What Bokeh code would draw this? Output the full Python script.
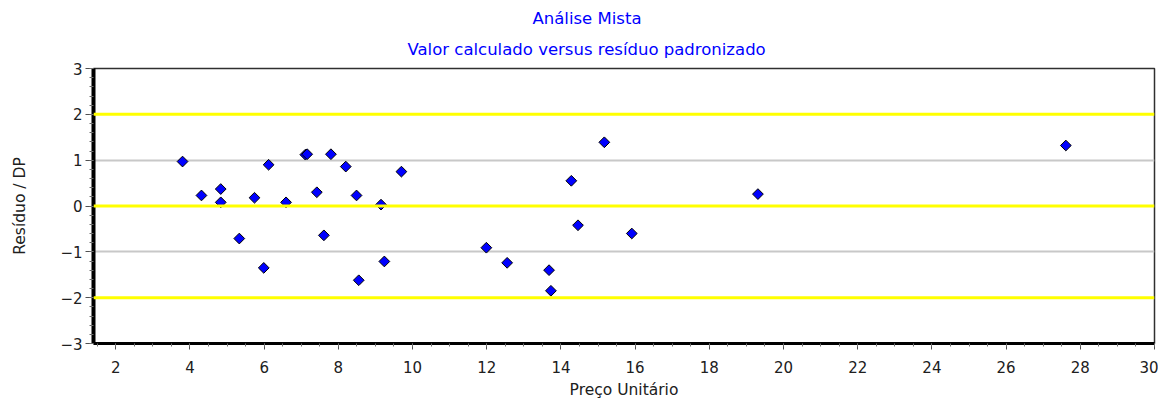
import math
from bokeh.plotting import figure
from bokeh.models import Range1d, SingleIntervalTicker, FixedTicker, Span, Title, ColumnDataSource
from bokeh.embed import file_html
from bokeh.resources import INLINE

# --- data ---
preco_unitario = [3.80, 4.31, 4.83, 4.83, 5.33, 5.74, 5.99, 6.12, 6.59, 7.11,
                  7.16, 7.42, 7.61, 7.80, 8.20, 8.49, 8.55, 9.15, 9.24, 9.70,
                  11.99, 12.55, 13.68, 13.73, 14.28, 14.46, 15.17, 15.91, 19.31, 27.61]
residuo_dp = [0.97, 0.23, 0.37, 0.08, -0.71, 0.18, -1.35, 0.90, 0.08, 1.12,
              1.13, 0.30, -0.64, 1.13, 0.86, 0.23, -1.62, 0.03, -1.21, 0.75,
              -0.91, -1.24, -1.40, -1.85, 0.55, -0.42, 1.39, -0.60, 0.26, 1.32]
limit_levels = [-2, 0, 2]
grid_levels = [-1, 1]
title_lines = ["Análise Mista", "Valor calculado versus resíduo padronizado"]
x_label = "Preço Unitário"
y_label = "Resíduo / DP"

FONT = "DejaVu Sans"

p = figure(width=1158, height=401, output_backend="svg", toolbar_location=None,
           x_range=Range1d(1.4, 30), y_range=Range1d(-3, 3),
           min_border_left=93, min_border_right=4, min_border_top=68, min_border_bottom=57)
p.background_fill_color = "white"
p.border_fill_color = "white"
p.outline_line_color = "#303030"
p.outline_line_width = 1.5

# grids
p.xgrid.visible = False
p.ygrid.ticker = FixedTicker(ticks=grid_levels)
p.ygrid.grid_line_color = "#c8c8c8"
p.ygrid.grid_line_width = 2

for lv in limit_levels:
    p.add_layout(Span(location=lv, dimension="width", line_color="#ffff00", line_width=3))

# axes
p.xaxis.ticker = SingleIntervalTicker(interval=2, num_minor_ticks=4)
p.yaxis.ticker = SingleIntervalTicker(interval=1, num_minor_ticks=5)
for ax in (p.xaxis[0], p.yaxis[0]):
    ax.axis_line_color = "black"
    ax.major_tick_line_color = "#505050"
    ax.minor_tick_line_color = "#707070"
    ax.major_label_text_font = FONT
    ax.major_label_text_font_size = "15px"
    ax.major_label_text_color = "#202020"
    ax.axis_label_text_font = FONT
    ax.axis_label_text_font_size = "15.5px"
    ax.axis_label_text_font_style = "normal"
    ax.axis_label_text_color = "#202020"

p.yaxis.axis_line_width = 4
p.yaxis.major_tick_out = 8
p.yaxis.major_tick_in = 0
p.yaxis.minor_tick_out = 4
p.yaxis.minor_tick_in = 0
p.yaxis.major_label_standoff = 3
p.yaxis.axis_label = y_label
p.yaxis.axis_label_standoff = 28

p.xaxis.axis_line_width = 3
p.xaxis.major_tick_out = 6
p.xaxis.major_tick_in = 0
p.xaxis.minor_tick_out = 3
p.xaxis.minor_tick_in = 0
p.xaxis.major_label_standoff = 11
p.xaxis.axis_label = x_label
p.xaxis.axis_label_standoff = 5

src = ColumnDataSource(dict(x=preco_unitario, y=residuo_dp))
p.scatter("x", "y", source=src, marker="square", angle=math.pi / 4, size=7.6,
          fill_color="#0000ff", line_color="black", line_width=1)

# titles (first added sits closest to the plot)
p.add_layout(Title(text=title_lines[1], align="left", offset=314, standoff=20,
                   text_color="#0000ff", text_font=FONT, text_font_size="16.5px",
                   text_font_style="normal"), "above")
p.add_layout(Title(text=title_lines[0], align="left", offset=439, standoff=0,
                   text_color="#0000ff", text_font=FONT, text_font_size="16.5px",
                   text_font_style="normal"), "above")

open("out.html", "w").write(file_html(p, INLINE))
